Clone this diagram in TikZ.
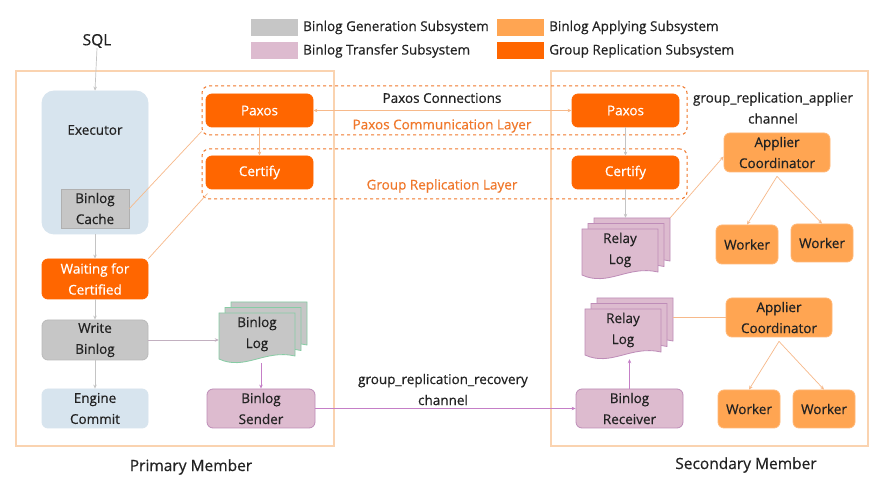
\documentclass[tikz,border=0pt]{standalone}
\usepackage{fontspec}
\setmainfont{Open Sans}[FakeBold=0.5]
\usetikzlibrary{arrows.meta,calc}
\definecolor{gror}{HTML}{FF6600}
\definecolor{apor}{HTML}{FFA552}
\definecolor{apord}{HTML}{FFB877}
\definecolor{grayf}{HTML}{C6C6C6}
\definecolor{grayd}{HTML}{B0B0B0}
\definecolor{pinkf}{HTML}{DDBBCF}
\definecolor{pinkd}{HTML}{BE8CB8}
\definecolor{bluef}{HTML}{D7E4EE}
\definecolor{memb}{HTML}{FAD3B0}
\definecolor{lnor}{HTML}{F7B98A}
\definecolor{lngr}{HTML}{C4C4C4}
\definecolor{lnpu}{HTML}{C57FC7}
\definecolor{txt}{HTML}{222222}
\definecolor{layer}{HTML}{F0772A}
\definecolor{greend}{HTML}{86CCA4}
\tikzset{
  base/.style={rounded corners=6pt, align=center, inner sep=0pt, font=\fontsize{13.5}{21}\selectfont, text=txt, line width=0.8pt},
  grbox/.style={base, fill=gror, draw=gror, text=white},
  apbox/.style={base, fill=apor, draw=apord},
  genbox/.style={base, fill=grayf, draw=grayd!60!grayf},
  trbox/.style={base, fill=pinkf, draw=pinkd},
  engbox/.style={base, fill=bluef, draw=bluef},
  member/.style={draw=memb, line width=1.2pt, inner sep=0pt},
  layerbox/.style={draw=layer, dashed, line width=1pt, rounded corners=7pt, inner sep=0pt},
  lbl/.style={font=\fontsize{13.5}{21}\selectfont, text=txt, align=center, inner sep=0pt},
  olbl/.style={lbl, text=layer},
  swatch/.style={minimum width=47pt, minimum height=17pt, inner sep=0pt},
  tip/.style={-{Stealth[length=4pt,width=3.5pt]}},
  gline/.style={draw=lngr, line width=0.7pt},
  oline/.style={draw=lnor, line width=0.7pt},
  pline/.style={draw=lnpu, line width=0.7pt},
}
% name, X (front left), Y (front top), fill, draw, text
\newcommand\stackdoc[6]{%
  \foreach \k in {2,1,0}{%
    \draw[fill=#4, draw=#5, line width=0.8pt]
      ({#2+6*\k},{#3-5.5*\k}) -- ({#2+6*\k+76},{#3-5.5*\k}) -- ({#2+6*\k+76},{#3-5.5*\k+43})
      .. controls ({#2+6*\k+46},{#3-5.5*\k+36}) and ({#2+6*\k+26},{#3-5.5*\k+58}) .. ({#2+6*\k},{#3-5.5*\k+46}) -- cycle;
  }
  \node[lbl] (#1) at ({#2+38},{#3+21}) {#6};
  \node[inner sep=0pt, minimum width=88pt, minimum height=61pt] (#1s) at ({#2+44},{#3+19.5}) {};
}
\begin{document}
\begin{tikzpicture}[x=1pt,y=-1pt]
\useasboundingbox[fill=white] (0,0) rectangle (887,486);

% legend
\node[swatch, fill=grayf] (sw1) at (274.5,27.5) {};
\node[swatch, fill=pinkf] (sw2) at (274.5,51) {};
\node[swatch, fill=apor] (sw3) at (520,27.5) {};
\node[swatch, fill=gror] (sw4) at (520,51) {};
\node[lbl, anchor=west] (lg1) at (303,27.5) {Binlog Generation Subsystem};
\node[lbl, anchor=west] (lg2) at (303,51) {Binlog Transfer Subsystem};
\node[lbl, anchor=west] (lg3) at (549,27.5) {Binlog Applying Subsystem};
\node[lbl, anchor=west] (lg4) at (549,51) {Group Replication Subsystem};

% member frames
\node[member, minimum width=318pt, minimum height=375pt] (primary) at (175,258.5) {};
\node[member, minimum width=317pt, minimum height=375pt] (secondary) at (709.5,258.5) {};
\node[lbl, font=\fontsize{15.5}{18}\selectfont] (primlbl) at (191,467) {Primary Member};
\node[lbl, font=\fontsize{15.5}{18}\selectfont] (seclbl) at (746,465) {Secondary Member};

% SQL and primary stack
\node[lbl, font=\fontsize{15.5}{18}\selectfont] (sql) at (97,41) {SQL};
\node[engbox, rounded corners=12pt, minimum width=106pt, minimum height=143pt] (exec) at (95,162.5) {};
\node[lbl] (exect) at (95,130) {Executor};
\node[genbox, rounded corners=0pt, draw=grayd, minimum width=68pt, minimum height=39pt] (cache) at (95,208.5) {Binlog\\Cache};
\node[grbox, minimum width=106pt, minimum height=40pt] (wait) at (95,279) {Waiting for\\Certified};
\node[genbox, minimum width=106pt, minimum height=40pt] (write) at (95,340) {Write\\Binlog};
\node[engbox, minimum width=106pt, minimum height=39pt] (engine) at (95,408.5) {Engine\\Commit};

% layers
\node[layerbox, minimum width=485pt, minimum height=49pt] (pxlayer) at (444.5,110.5) {};
\node[layerbox, minimum width=485pt, minimum height=50pt] (grlayer) at (444.5,174) {};
\node[grbox, minimum width=107pt, minimum height=33pt] (paxosL) at (259.5,110.5) {Paxos};
\node[grbox, minimum width=107pt, minimum height=33pt] (paxosR) at (625.5,110.5) {Paxos};
\node[grbox, minimum width=107pt, minimum height=33pt] (certL) at (259.5,172.5) {Certify};
\node[grbox, minimum width=107pt, minimum height=33pt] (certR) at (625.5,172.5) {Certify};
\node[lbl] (pxconn) at (442,98) {Paxos Connections};
\node[olbl] (pxcomm) at (442,126) {Paxos Communication Layer};
\node[olbl] (grl) at (442,186) {Group Replication Layer};

% binlog log and sender
\stackdoc{binlog}{219}{313}{grayf}{greend}{Binlog\\Log}
\node[trbox, minimum width=108pt, minimum height=39pt] (sender) at (261,408.5) {Binlog\\Sender};
\node[lbl] (recch) at (443,389.5) {group\_replication\_recovery\\channel};

% secondary
\node[trbox, minimum width=107pt, minimum height=39pt] (receiver) at (629.5,408.5) {Binlog\\Receiver};
\stackdoc{relayA}{582}{229}{pinkf}{pinkd}{Relay\\Log}
\stackdoc{relayB}{585}{309}{pinkf}{pinkd}{Relay\\Log}
\node[lbl] (appch) at (773,108) {group\_replication\_applier\\channel};
\node[apbox, minimum width=106pt, minimum height=39pt] (appA) at (777,152.5) {Applier\\Coordinator};
\node[apbox, minimum width=62pt, minimum height=39pt] (wA1) at (747,244.5) {Worker};
\node[apbox, minimum width=62pt, minimum height=38pt] (wA2) at (822,243) {Worker};
\node[apbox, minimum width=106pt, minimum height=39pt] (appB) at (779,317.5) {Applier\\Coordinator};
\node[apbox, minimum width=62pt, minimum height=38pt] (wB1) at (749,409) {Worker};
\node[apbox, minimum width=62pt, minimum height=38pt] (wB2) at (824,409) {Worker};

% connectors
\draw[gline, tip] (sql.south) -- (exec.north);
\draw[gline, tip] (exec.south) -- (wait.north);
\draw[gline, tip] (wait.south) -- (write.north);
\draw[gline, tip] (write.south) -- (engine.north);
\draw[gline, draw=pinkd!35!lngr, tip] (write.east) -- (write.east -| binlogs.west);
\draw[pline, tip] (sender.north |- binlogs.south) -- (sender.north);
\draw[pline, tip] (sender.east) -- (receiver.west);
\draw[pline, tip] (receiver.north) -- (receiver.north |- relayBs.south);
\draw[oline] (relayBs.east |- appB.west) -- (appB.west);
\draw[oline, tip] ([yshift=-4pt]appB.south) -- (wB1.north);
\draw[oline, tip] ([yshift=-4pt]appB.south) -- (wB2.north);
\draw[oline, tip] ([yshift=-4pt]appA.south) -- (wA1.north);
\draw[oline, tip] ([yshift=-4pt]appA.south) -- (wA2.north);
\draw[oline, tip] (relayAs.north east) -- ([yshift=-4pt]appA.west);
\draw[gline, tip] (certR.south) -- (certR.south |- relayAs.north);
\draw[gline, tip] (paxosR.south) -- (certR.north);
\draw[oline, tip] (paxosL.south) -- (certL.north);
\draw[oline, {Stealth[length=4pt,width=3.5pt]}-{Stealth[length=4pt,width=3.5pt]}] (paxosL.east) -- (paxosR.west);
\draw[oline] (cache.east) -- ([yshift=4pt]pxlayer.south west);
\draw[oline] (wait.north east) -- ([xshift=6pt,yshift=6pt]grlayer.south west);
\end{tikzpicture}
\end{document}
